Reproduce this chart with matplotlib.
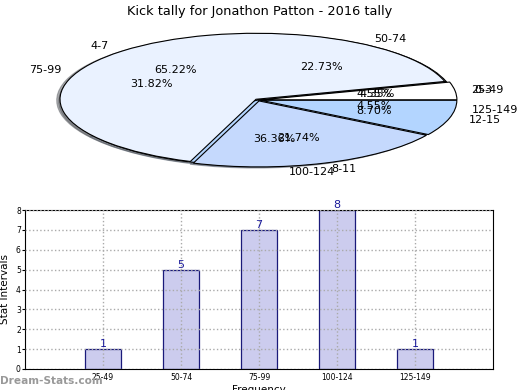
import matplotlib.pyplot as plt

TITLE = 'Kick tally for Jonathon Patton - 2016 tally'

# kick counts per stat interval
kick_labels = ['0-3', '4-7', '8-11', '12-15']
kick_counts = [1, 15, 5, 2]
kick_colors = ['#ffffff', '#eaf2ff', '#c5d9fd', '#b3d5ff']

# second tally shown on the same pie and in the bar chart
freq_labels = ['25-49', '50-74', '75-99', '100-124', '125-149']
freq_counts = [1, 5, 7, 8, 1]
freq_colors = ['#ffffff', '#eaf2ff', '#eaf2ff', '#b3d5ff', '#b3d5ff']

fig = plt.figure(figsize=(5.2, 3.9), dpi=100)
W, H = 520, 390

# Pie: squashed ellipse, centre at (258, 100) px, radii 196 x 66 px
ax_pie = fig.add_axes([0, 1 - 180 / H, 1, 160 / H])
shadow = dict(ox=-0.012, oy=-0.012, shade=0.6)
ax_pie.pie(freq_counts, labels=freq_labels, colors=freq_colors, autopct='%.2f%%',
           shadow=shadow, wedgeprops=dict(edgecolor='black', linewidth=0.8),
           textprops=dict(fontsize=8))
ax_pie.pie(kick_counts, labels=kick_labels, colors=kick_colors, autopct='%.2f%%',
           explode=[0.015] * len(kick_counts), shadow=shadow,
           wedgeprops=dict(edgecolor='black', linewidth=0.8),
           textprops=dict(fontsize=8))
ax_pie.set_aspect('auto')
ax_pie.set_xlim(-258 / 196, (W - 258) / 196)
ax_pie.set_ylim(-80 / 66, 80 / 66)
ax_pie.axis('off')
fig.text(0.5, 1 - 11 / H, TITLE, ha='center', va='center', fontsize=9.3)

# Bar chart
ax = fig.add_axes([25 / W, 1 - 369 / H, (493 - 25) / W, (369 - 210) / H])
x = range(len(freq_labels))
ax.bar(x, freq_counts, width=0.46, color='#ccccee', edgecolor='#1a1a7a', linewidth=0.9)
for i, v in zip(x, freq_counts):
    ax.text(i, v, str(v), ha='center', va='bottom', fontsize=8, color='#1a1a9a')
ax.set_xlim(-1, 5)
ax.set_ylim(0, 8)
ax.set_xticks(list(x))
ax.set_xticklabels(freq_labels, fontsize=5.5)
ax.set_yticks(range(9))
ax.tick_params(axis='y', labelsize=5.5, length=2, pad=1)
ax.tick_params(axis='x', length=0, pad=3)
ax.grid(True, linestyle=':', color='#aaaaaa', linewidth=1)
ax.set_axisbelow(False)
ax.set_ylabel('Stat Intervals', fontsize=7.5, labelpad=4)
ax.set_xlabel('Frequency', fontsize=7.5, labelpad=2)

fig.text(0.0, 1 - 381 / H, 'Dream-Stats.com', ha='left', va='center',
         fontsize=7.6, color='#999999', fontweight='bold')

fig.savefig('out.png', dpi=100)
